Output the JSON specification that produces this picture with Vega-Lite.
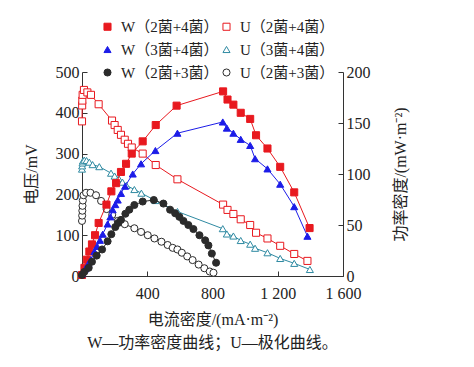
{
  "$schema": "https://vega.github.io/schema/vega-lite/v6.json",
  "width": 261,
  "height": 204,
  "autosize": {"type": "none"},
  "padding": {"left": 82, "top": 72, "right": 131, "bottom": 91},
  "background": "white",
  "config": {
    "view": {"stroke": null},
    "font": "Liberation Serif, Noto Sans CJK SC",
    "axis": {
      "grid": false,
      "domainColor": "#333333",
      "tickColor": "#333333",
      "labelColor": "#222222",
      "titleColor": "#222222",
      "labelFont": "Liberation Serif, Noto Sans CJK SC",
      "titleFont": "Liberation Serif, Noto Sans CJK SC",
      "labelFontSize": 16,
      "titleFontSize": 16,
      "titleFontWeight": "normal",
      "tickSize": -5,
      "labelPadding": 8,
      "labelFlush": false
    },
    "legend": {
      "labelFont": "Liberation Serif, Noto Sans CJK SC",
      "labelFontSize": 15,
      "labelColor": "#222222",
      "labelOffset": 6,
      "symbolSize": 50,
      "symbolStrokeWidth": 1,
      "padding": 0
    }
  },
  "title": {
    "text": "W—功率密度曲线；U—极化曲线。",
    "orient": "bottom",
    "anchor": "middle",
    "fontSize": 16,
    "fontWeight": "normal",
    "font": "Liberation Serif, Noto Sans CJK SC",
    "color": "#222222",
    "offset": 8
  },
  "data": {
    "values": [
      {"s": "U（2菌+4菌）", "k": "U", "i": 0, "v": 379},
      {"s": "U（2菌+4菌）", "k": "U", "i": 1, "v": 418},
      {"s": "U（2菌+4菌）", "k": "U", "i": 2, "v": 430},
      {"s": "U（2菌+4菌）", "k": "U", "i": 4, "v": 444},
      {"s": "U（2菌+4菌）", "k": "U", "i": 12, "v": 456},
      {"s": "U（2菌+4菌）", "k": "U", "i": 33, "v": 450},
      {"s": "U（2菌+4菌）", "k": "U", "i": 55, "v": 444},
      {"s": "U（2菌+4菌）", "k": "U", "i": 102, "v": 421},
      {"s": "U（2菌+4菌）", "k": "U", "i": 184, "v": 381},
      {"s": "U（2菌+4菌）", "k": "U", "i": 200, "v": 370},
      {"s": "U（2菌+4菌）", "k": "U", "i": 219, "v": 358},
      {"s": "U（2菌+4菌）", "k": "U", "i": 239, "v": 346},
      {"s": "U（2菌+4菌）", "k": "U", "i": 262, "v": 334},
      {"s": "U（2菌+4菌）", "k": "U", "i": 282, "v": 324},
      {"s": "U（2菌+4菌）", "k": "U", "i": 305, "v": 315},
      {"s": "U（2菌+4菌）", "k": "U", "i": 372, "v": 300},
      {"s": "U（2菌+4菌）", "k": "U", "i": 452, "v": 272},
      {"s": "U（2菌+4菌）", "k": "U", "i": 585, "v": 237},
      {"s": "U（2菌+4菌）", "k": "U", "i": 865, "v": 175},
      {"s": "U（2菌+4菌）", "k": "U", "i": 892, "v": 162},
      {"s": "U（2菌+4菌）", "k": "U", "i": 928, "v": 152},
      {"s": "U（2菌+4菌）", "k": "U", "i": 973, "v": 139},
      {"s": "U（2菌+4菌）", "k": "U", "i": 1031, "v": 125},
      {"s": "U（2菌+4菌）", "k": "U", "i": 1067, "v": 106},
      {"s": "U（2菌+4菌）", "k": "U", "i": 1137, "v": 92},
      {"s": "U（2菌+4菌）", "k": "U", "i": 1215, "v": 74},
      {"s": "U（2菌+4菌）", "k": "U", "i": 1301, "v": 54},
      {"s": "U（2菌+4菌）", "k": "U", "i": 1382, "v": 37},

      {"s": "U（3菌+4菌）", "k": "U", "i": 0, "v": 262},
      {"s": "U（3菌+4菌）", "k": "U", "i": 1, "v": 270},
      {"s": "U（3菌+4菌）", "k": "U", "i": 3, "v": 277},
      {"s": "U（3菌+4菌）", "k": "U", "i": 6, "v": 282},
      {"s": "U（3菌+4菌）", "k": "U", "i": 14, "v": 284},
      {"s": "U（3菌+4菌）", "k": "U", "i": 28, "v": 283},
      {"s": "U（3菌+4菌）", "k": "U", "i": 45, "v": 279},
      {"s": "U（3菌+4菌）", "k": "U", "i": 65, "v": 273},
      {"s": "U（3菌+4菌）", "k": "U", "i": 106, "v": 268},
      {"s": "U（3菌+4菌）", "k": "U", "i": 178, "v": 252},
      {"s": "U（3菌+4菌）", "k": "U", "i": 200, "v": 245},
      {"s": "U（3菌+4菌）", "k": "U", "i": 225, "v": 239},
      {"s": "U（3菌+4菌）", "k": "U", "i": 248, "v": 230},
      {"s": "U（3菌+4菌）", "k": "U", "i": 272, "v": 222},
      {"s": "U（3菌+4菌）", "k": "U", "i": 321, "v": 212},
      {"s": "U（3菌+4菌）", "k": "U", "i": 364, "v": 203},
      {"s": "U（3菌+4菌）", "k": "U", "i": 450, "v": 185},
      {"s": "U（3菌+4菌）", "k": "U", "i": 585, "v": 158},
      {"s": "U（3菌+4菌）", "k": "U", "i": 863, "v": 116},
      {"s": "U（3菌+4菌）", "k": "U", "i": 888, "v": 103},
      {"s": "U（3菌+4菌）", "k": "U", "i": 928, "v": 98},
      {"s": "U（3菌+4菌）", "k": "U", "i": 973, "v": 87},
      {"s": "U（3菌+4菌）", "k": "U", "i": 1031, "v": 78},
      {"s": "U（3菌+4菌）", "k": "U", "i": 1061, "v": 68},
      {"s": "U（3菌+4菌）", "k": "U", "i": 1137, "v": 57},
      {"s": "U（3菌+4菌）", "k": "U", "i": 1215, "v": 43},
      {"s": "U（3菌+4菌）", "k": "U", "i": 1301, "v": 31},
      {"s": "U（3菌+4菌）", "k": "U", "i": 1397, "v": 16},

      {"s": "U（2菌+3菌）", "k": "U", "i": 0, "v": 135},
      {"s": "U（2菌+3菌）", "k": "U", "i": 1, "v": 148},
      {"s": "U（2菌+3菌）", "k": "U", "i": 2, "v": 160},
      {"s": "U（2菌+3菌）", "k": "U", "i": 3, "v": 172},
      {"s": "U（2菌+3菌）", "k": "U", "i": 5, "v": 185},
      {"s": "U（2菌+3菌）", "k": "U", "i": 9, "v": 198},
      {"s": "U（2菌+3菌）", "k": "U", "i": 25, "v": 204},
      {"s": "U（2菌+3菌）", "k": "U", "i": 52, "v": 204},
      {"s": "U（2菌+3菌）", "k": "U", "i": 86, "v": 198},
      {"s": "U（2菌+3菌）", "k": "U", "i": 117, "v": 184},
      {"s": "U（2菌+3菌）", "k": "U", "i": 151, "v": 164},
      {"s": "U（2菌+3菌）", "k": "U", "i": 185, "v": 150},
      {"s": "U（2菌+3菌）", "k": "U", "i": 219, "v": 135},
      {"s": "U（2菌+3菌）", "k": "U", "i": 262, "v": 127},
      {"s": "U（2菌+3菌）", "k": "U", "i": 321, "v": 117},
      {"s": "U（2菌+3菌）", "k": "U", "i": 362, "v": 108},
      {"s": "U（2菌+3菌）", "k": "U", "i": 403, "v": 100},
      {"s": "U（2菌+3菌）", "k": "U", "i": 444, "v": 92},
      {"s": "U（2菌+3菌）", "k": "U", "i": 487, "v": 84},
      {"s": "U（2菌+3菌）", "k": "U", "i": 525, "v": 76},
      {"s": "U（2菌+3菌）", "k": "U", "i": 556, "v": 69},
      {"s": "U（2菌+3菌）", "k": "U", "i": 585, "v": 65},
      {"s": "U（2菌+3菌）", "k": "U", "i": 612, "v": 57},
      {"s": "U（2菌+3菌）", "k": "U", "i": 645, "v": 48},
      {"s": "U（2菌+3菌）", "k": "U", "i": 678, "v": 39},
      {"s": "U（2菌+3菌）", "k": "U", "i": 715, "v": 28},
      {"s": "U（2菌+3菌）", "k": "U", "i": 750, "v": 19},
      {"s": "U（2菌+3菌）", "k": "U", "i": 783, "v": 11},
      {"s": "U（2菌+3菌）", "k": "U", "i": 806, "v": 8},

      {"s": "W（2菌+4菌）", "k": "W", "i": 0, "v": 1},
      {"s": "W（2菌+4菌）", "k": "W", "i": 15, "v": 8},
      {"s": "W（2菌+4菌）", "k": "W", "i": 29, "v": 16},
      {"s": "W（2菌+4菌）", "k": "W", "i": 45, "v": 24},
      {"s": "W（2菌+4菌）", "k": "W", "i": 61, "v": 31},
      {"s": "W（2菌+4菌）", "k": "W", "i": 80, "v": 40},
      {"s": "W（2菌+4菌）", "k": "W", "i": 102, "v": 52},
      {"s": "W（2菌+4菌）", "k": "W", "i": 150, "v": 70},
      {"s": "W（2菌+4菌）", "k": "W", "i": 180, "v": 83},
      {"s": "W（2菌+4菌）", "k": "W", "i": 209, "v": 91},
      {"s": "W（2菌+4菌）", "k": "W", "i": 239, "v": 102},
      {"s": "W（2菌+4菌）", "k": "W", "i": 270, "v": 110},
      {"s": "W（2菌+4菌）", "k": "W", "i": 305, "v": 120},
      {"s": "W（2菌+4菌）", "k": "W", "i": 372, "v": 132},
      {"s": "W（2菌+4菌）", "k": "W", "i": 452, "v": 148},
      {"s": "W（2菌+4菌）", "k": "W", "i": 580, "v": 167},
      {"s": "W（2菌+4菌）", "k": "W", "i": 865, "v": 181},
      {"s": "W（2菌+4菌）", "k": "W", "i": 892, "v": 173},
      {"s": "W（2菌+4菌）", "k": "W", "i": 928, "v": 168},
      {"s": "W（2菌+4菌）", "k": "W", "i": 973, "v": 160},
      {"s": "W（2菌+4菌）", "k": "W", "i": 1031, "v": 154},
      {"s": "W（2菌+4菌）", "k": "W", "i": 1067, "v": 138},
      {"s": "W（2菌+4菌）", "k": "W", "i": 1137, "v": 125},
      {"s": "W（2菌+4菌）", "k": "W", "i": 1215, "v": 107},
      {"s": "W（2菌+4菌）", "k": "W", "i": 1301, "v": 82},
      {"s": "W（2菌+4菌）", "k": "W", "i": 1395, "v": 47},

      {"s": "W（3菌+4菌）", "k": "W", "i": 0, "v": 2},
      {"s": "W（3菌+4菌）", "k": "W", "i": 20, "v": 7},
      {"s": "W（3菌+4菌）", "k": "W", "i": 39, "v": 12},
      {"s": "W（3菌+4菌）", "k": "W", "i": 55, "v": 16},
      {"s": "W（3菌+4菌）", "k": "W", "i": 76, "v": 24},
      {"s": "W（3菌+4菌）", "k": "W", "i": 92, "v": 29},
      {"s": "W（3菌+4菌）", "k": "W", "i": 110, "v": 35},
      {"s": "W（3菌+4菌）", "k": "W", "i": 127, "v": 41},
      {"s": "W（3菌+4菌）", "k": "W", "i": 157, "v": 51},
      {"s": "W（3菌+4菌）", "k": "W", "i": 174, "v": 58},
      {"s": "W（3菌+4菌）", "k": "W", "i": 188, "v": 65},
      {"s": "W（3菌+4菌）", "k": "W", "i": 204, "v": 70},
      {"s": "W（3菌+4菌）", "k": "W", "i": 219, "v": 74.5},
      {"s": "W（3菌+4菌）", "k": "W", "i": 239, "v": 81},
      {"s": "W（3菌+4菌）", "k": "W", "i": 264, "v": 88},
      {"s": "W（3菌+4菌）", "k": "W", "i": 311, "v": 100},
      {"s": "W（3菌+4菌）", "k": "W", "i": 362, "v": 110},
      {"s": "W（3菌+4菌）", "k": "W", "i": 450, "v": 123},
      {"s": "W（3菌+4菌）", "k": "W", "i": 585, "v": 140},
      {"s": "W（3菌+4菌）", "k": "W", "i": 863, "v": 151},
      {"s": "W（3菌+4菌）", "k": "W", "i": 888, "v": 145},
      {"s": "W（3菌+4菌）", "k": "W", "i": 928, "v": 140},
      {"s": "W（3菌+4菌）", "k": "W", "i": 973, "v": 134},
      {"s": "W（3菌+4菌）", "k": "W", "i": 1031, "v": 128},
      {"s": "W（3菌+4菌）", "k": "W", "i": 1061, "v": 115},
      {"s": "W（3菌+4菌）", "k": "W", "i": 1137, "v": 105},
      {"s": "W（3菌+4菌）", "k": "W", "i": 1215, "v": 90},
      {"s": "W（3菌+4菌）", "k": "W", "i": 1301, "v": 68},
      {"s": "W（3菌+4菌）", "k": "W", "i": 1382, "v": 39},

      {"s": "W（2菌+3菌）", "k": "W", "i": 0, "v": 1},
      {"s": "W（2菌+3菌）", "k": "W", "i": 14, "v": 4},
      {"s": "W（2菌+3菌）", "k": "W", "i": 41, "v": 8},
      {"s": "W（2菌+3菌）", "k": "W", "i": 61, "v": 14},
      {"s": "W（2菌+3菌）", "k": "W", "i": 90, "v": 20},
      {"s": "W（2菌+3菌）", "k": "W", "i": 123, "v": 26},
      {"s": "W（2菌+3菌）", "k": "W", "i": 157, "v": 34},
      {"s": "W（2菌+3菌）", "k": "W", "i": 180, "v": 41},
      {"s": "W（2菌+3菌）", "k": "W", "i": 204, "v": 48},
      {"s": "W（2菌+3菌）", "k": "W", "i": 222, "v": 52},
      {"s": "W（2菌+3菌）", "k": "W", "i": 239, "v": 55},
      {"s": "W（2菌+3菌）", "k": "W", "i": 266, "v": 61},
      {"s": "W（2菌+3菌）", "k": "W", "i": 290, "v": 65},
      {"s": "W（2菌+3菌）", "k": "W", "i": 321, "v": 69.6},
      {"s": "W（2菌+3菌）", "k": "W", "i": 372, "v": 73},
      {"s": "W（2菌+3菌）", "k": "W", "i": 440, "v": 74.5},
      {"s": "W（2菌+3菌）", "k": "W", "i": 499, "v": 71},
      {"s": "W（2菌+3菌）", "k": "W", "i": 540, "v": 65},
      {"s": "W（2菌+3菌）", "k": "W", "i": 571, "v": 61.5},
      {"s": "W（2菌+3菌）", "k": "W", "i": 597, "v": 58},
      {"s": "W（2菌+3菌）", "k": "W", "i": 622, "v": 54},
      {"s": "W（2菌+3菌）", "k": "W", "i": 652, "v": 50},
      {"s": "W（2菌+3菌）", "k": "W", "i": 683, "v": 46},
      {"s": "W（2菌+3菌）", "k": "W", "i": 720, "v": 40},
      {"s": "W（2菌+3菌）", "k": "W", "i": 755, "v": 35},
      {"s": "W（2菌+3菌）", "k": "W", "i": 775, "v": 30},
      {"s": "W（2菌+3菌）", "k": "W", "i": 796, "v": 22},
      {"s": "W（2菌+3菌）", "k": "W", "i": 822, "v": 13}
    ]
  },
  "layer": [
    {
      "transform": [{"filter": "datum.k == 'U'"}],
      "encoding": {
        "x": {
          "field": "i", "type": "quantitative",
          "scale": {"domain": [0, 1600], "nice": false},
          "axis": {
            "values": [0, 400, 800, 1200, 1600],
            "format": ",d",
            "labelExpr": "datum.value == 0 ? '' : replace(datum.label, ',', ' ')",
            "labelPadding": 14,
            "title": "电流密度/(mA·m⁻²)",
            "titlePadding": 10
          }
        },
        "y": {
          "field": "v", "type": "quantitative",
          "scale": {"domain": [0, 500], "nice": false},
          "axis": {
            "values": [0, 100, 200, 300, 400, 500],
            "title": "电压/mV",
            "orient": "left",
            "titlePadding": 16
          }
        }
      },
      "layer": [
        {
          "mark": {"type": "line", "strokeWidth": 1},
          "encoding": {
            "stroke": {
              "field": "s", "type": "nominal",
              "legend": {"title": null, "orient": "none", "legendX": 18, "legendY": -53, "columns": 2, "direction": "horizontal", "columnPadding": 0, "rowPadding": 7},
              "scale": {
                "domain": ["W（2菌+4菌）", "U（2菌+4菌）", "W（3菌+4菌）", "U（3菌+4菌）", "W（2菌+3菌）", "U（2菌+3菌）"],
                "range": ["#e8191f", "#e8191f", "#1c1ce8", "#2f8aa2", "#2b2b2b", "#2b2b2b"]
              }
            }
          }
        },
        {
          "mark": {"type": "point", "opacity": 1, "strokeWidth": 1, "size": 50},
          "encoding": {
            "stroke": {
              "field": "s", "type": "nominal",
              "legend": {"title": null, "orient": "none", "legendX": 18, "legendY": -53, "columns": 2, "direction": "horizontal", "columnPadding": 0, "rowPadding": 7},
              "scale": {
                "domain": ["W（2菌+4菌）", "U（2菌+4菌）", "W（3菌+4菌）", "U（3菌+4菌）", "W（2菌+3菌）", "U（2菌+3菌）"],
                "range": ["#e8191f", "#e8191f", "#1c1ce8", "#2f8aa2", "#2b2b2b", "#2b2b2b"]
              }
            },
            "fill": {
              "field": "s", "type": "nominal",
              "legend": {"title": null, "orient": "none", "legendX": 18, "legendY": -53, "columns": 2, "direction": "horizontal", "columnPadding": 0, "rowPadding": 7},
              "scale": {
                "domain": ["W（2菌+4菌）", "U（2菌+4菌）", "W（3菌+4菌）", "U（3菌+4菌）", "W（2菌+3菌）", "U（2菌+3菌）"],
                "range": ["#e8191f", "#ffffff", "#1c1ce8", "#ffffff", "#2b2b2b", "#ffffff"]
              }
            },
            "shape": {
              "field": "s", "type": "nominal",
              "legend": {"title": null, "orient": "none", "legendX": 18, "legendY": -53, "columns": 2, "direction": "horizontal", "columnPadding": 0, "rowPadding": 7},
              "scale": {
                "domain": ["W（2菌+4菌）", "U（2菌+4菌）", "W（3菌+4菌）", "U（3菌+4菌）", "W（2菌+3菌）", "U（2菌+3菌）"],
                "range": ["square", "square", "triangle-up", "triangle-up", "circle", "circle"]
              }
            }
          }
        }
      ]
    },
    {
      "transform": [{"filter": "datum.k == 'W'"}],
      "encoding": {
        "x": {"field": "i", "type": "quantitative"},
        "y": {
          "field": "v", "type": "quantitative",
          "scale": {"domain": [0, 200], "nice": false},
          "axis": {
            "values": [0, 50, 100, 150, 200],
            "title": "功率密度/(mW·m⁻²)",
            "orient": "right",
            "titleAngle": -90,
            "titlePadding": 38
          }
        }
      },
      "layer": [
        {
          "mark": {"type": "line", "strokeWidth": 1},
          "encoding": {
            "stroke": {"field": "s", "type": "nominal", "legend": {"title": null, "orient": "none", "legendX": 18, "legendY": -53, "columns": 2, "direction": "horizontal", "columnPadding": 0, "rowPadding": 7}}
          }
        },
        {
          "mark": {"type": "point", "opacity": 1, "strokeWidth": 1, "size": 50},
          "encoding": {
            "stroke": {"field": "s", "type": "nominal", "legend": {"title": null, "orient": "none", "legendX": 18, "legendY": -53, "columns": 2, "direction": "horizontal", "columnPadding": 0, "rowPadding": 7}},
            "fill": {"field": "s", "type": "nominal", "legend": {"title": null, "orient": "none", "legendX": 18, "legendY": -53, "columns": 2, "direction": "horizontal", "columnPadding": 0, "rowPadding": 7}},
            "shape": {"field": "s", "type": "nominal", "legend": {"title": null, "orient": "none", "legendX": 18, "legendY": -53, "columns": 2, "direction": "horizontal", "columnPadding": 0, "rowPadding": 7}}
          }
        }
      ]
    }
  ],
  "resolve": {"scale": {"y": "independent"}}
}
